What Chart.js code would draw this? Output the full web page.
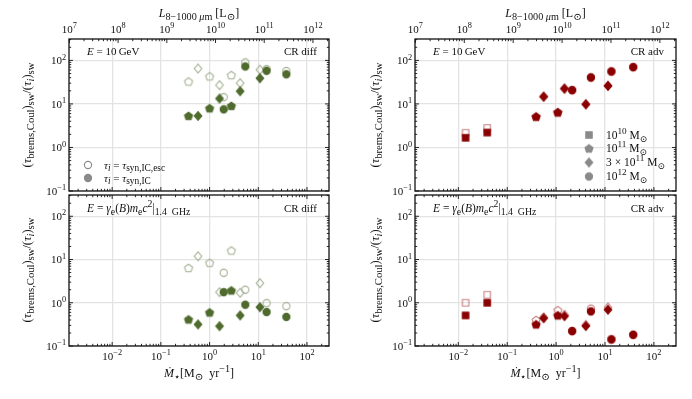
<!DOCTYPE html>
<html>
<head>
<meta charset="utf-8">
<script src="https://cdn.jsdelivr.net/npm/chart.js@4.4.0/dist/chart.umd.min.js"></script>
<style>
  html, body { margin: 0; padding: 0; background: #fff; }
  #wrap { position: relative; width: 692px; height: 399px; }
  #wrap canvas { position: absolute; left: 0; top: 0; }
</style>
</head>
<body>
<div id="wrap">
  <canvas id="diffTop" width="692" height="399"></canvas>
  <canvas id="diffLow" width="692" height="399"></canvas>
  <canvas id="advTop" width="692" height="399"></canvas>
  <canvas id="advLow" width="692" height="399"></canvas>
</div>
<script>
// star formation rates [Msun/yr] and marker shape (galaxy mass) of each galaxy
const sfrDiff = [0.37, 0.58, 1.0, 1.6, 1.95, 2.8, 4.25, 5.4, 10.8, 14.8, 37.7];
const shapeDiff = ['pentagon', 'diamond', 'pentagon', 'diamond', 'circle', 'pentagon', 'diamond', 'circle', 'diamond', 'circle', 'circle'];
const sfrAdv = [0.0141, 0.039, 0.39, 0.556, 1.08, 1.48, 2.13, 4.06, 5.15, 11.5, 13.5, 37.7];
const shapeAdv = ['square', 'square', 'pentagon', 'diamond', 'pentagon', 'diamond', 'circle', 'diamond', 'circle', 'diamond', 'circle', 'circle'];

// ratio (tau_brems,Coul)_sw / (tau_i)_sw
const diffGeVEsc = [32.7, 65, 43, 27, 14.3, 46, 30, 90, 61, 63, 57];
const diffGeV = [5.3, 5.3, 7.95, 13.3, 7.5, 9.0, 19.6, 72.6, 39, 57.8, 48];
const diffGHzEsc = [6.4, 11.9, 8.4, 1.76, 4.93, 16.1, 1.70, 2.0, 2.84, 0.98, 0.835];
const diffGHz = [0.41, 0.316, 0.597, 0.288, 1.76, 1.92, 0.51, 0.90, 0.79, 0.61, 0.47];
const advGeVEsc = [2.17, 2.8, 5.1, 14.7, 6.4, 22.5, 20.7, 9.8, 40.5, 26, 55.7, 70];
const advGeV = [1.67, 2.2, 5.1, 14.7, 6.4, 22.5, 20.7, 9.8, 40.5, 26, 55.7, 70];
const advGHzEsc = [1.0, 1.53, 0.40, 0.46, 0.675, 0.53, 0.221, 0.31, 0.73, 0.78, 0.142, 0.182];
const advGHz = [0.51, 1.0, 0.316, 0.44, 0.51, 0.49, 0.221, 0.29, 0.63, 0.69, 0.142, 0.182];

// axis limits
const sfrMin = 1.3e-3, sfrMax = 283;
const ratioMin = 0.1, ratioMax = 310;
const lumPerSfr = 7.55e9;

const green = '#4f6b2d', greenOpen = '#a4b092';
const red = '#8b0000', redOpen = '#c97f7f';
const legendGray = '#8a8a8a';

const fontOf = (size, italic) => (italic ? 'italic ' : '') + size + 'px "Liberation Serif", "DejaVu Serif", serif';

// markers as small canvases (Chart.js has no pentagon)
const markerCache = {};
function markerImg(shape, color, filled) {
  const key = shape + color + filled;
  if (markerCache[key]) return markerCache[key];
  const c = document.createElement('canvas');
  c.width = c.height = 14;
  const g = c.getContext('2d');
  g.translate(7, 7);
  g.beginPath();
  if (shape === 'circle') {
    g.arc(0, 0, 3.6, 0, Math.PI * 2);
  } else if (shape === 'square') {
    g.rect(-3.2, -3.2, 6.4, 6.4);
  } else if (shape === 'diamond') {
    g.moveTo(0, -4.3); g.lineTo(3.8, 0); g.lineTo(0, 4.3); g.lineTo(-3.8, 0); g.closePath();
  } else {
    for (let i = 0; i < 5; i++) {
      const ang = -Math.PI / 2 + i * 2 * Math.PI / 5;
      const px = 4.2 * Math.cos(ang), py = 4.2 * Math.sin(ang) + 0.4;
      if (i === 0) g.moveTo(px, py); else g.lineTo(px, py);
    }
    g.closePath();
  }
  g.lineWidth = 1.1;
  g.strokeStyle = color;
  if (filled) { g.fillStyle = color; g.fill(); }
  g.stroke();
  markerCache[key] = c;
  return c;
}

function series(xs, ys, shapes, color, filled) {
  return {
    data: xs.map((x, i) => ({ x: x, y: ys[i] })),
    pointStyle: c => markerImg(shapes[c.dataIndex], color, filled),
    pointRadius: 4,
    order: filled ? 1 : 2
  };
}

// text with sub/superscripts: parts = [[text, style]], style flags 'i' italic, '_' sub, '^' sup
function drawRich(ctx, parts, x, y, size, align, angle, subScale) {
  const k = subScale || 0.8;
  const segs = parts.map(([text, st]) => {
    const small = st.includes('_') || st.includes('^');
    const font = fontOf(small ? size * k : size, st.includes('i'));
    ctx.font = font;
    const dy = st.includes('_') ? size * 0.25 : st.includes('^') ? -size * 0.42 : 0;
    return { text, font, dy, w: ctx.measureText(text).width };
  });
  const total = segs.reduce((s, g) => s + g.w, 0);
  let cx = align === 'center' ? -total / 2 : align === 'right' ? -total : 0;
  ctx.save();
  ctx.translate(x, y);
  if (angle) ctx.rotate(angle);
  ctx.fillStyle = '#111';
  ctx.textAlign = 'left';
  ctx.textBaseline = 'alphabetic';
  segs.forEach(g => { ctx.font = g.font; ctx.fillText(g.text, cx, g.dy); cx += g.w; });
  ctx.restore();
}

function expLabel(e) {
  return [['10', ''], [String(e).replace('-', '\u2212'), '^']];
}

function isDecade(v) {
  if (!v) return false;
  const l = Math.log10(v);
  return Math.abs(l - Math.round(l)) < 1e-6;
}

// calls fn(pixel, exponent or null) for every 1..9 x 10^n tick of a log scale
function eachTick(scale, fn) {
  scale.ticks.forEach(t => {
    const v = t.value;
    const e = Math.floor(Math.log10(v) + 1e-9);
    const m = v / Math.pow(10, e);
    if (Math.abs(m - Math.round(m)) > 1e-6) return;
    fn(scale.getPixelForValue(v), Math.round(m) === 1 ? e : null);
  });
}

function framePlugin(extra) {
  return {
    id: 'frame',
    afterDraw(chart) {
      const { ctx, chartArea: a } = chart;
      const xs = chart.scales.x, ys = chart.scales.y;
      const topScale = chart.scales.x2 || xs;
      ctx.save();
      ctx.strokeStyle = '#111';
      ctx.lineWidth = 0.9;
      ctx.beginPath();
      eachTick(xs, (p, e) => {
        if (p < a.left - 0.5 || p > a.right + 0.5) return;
        const len = e === null ? 2.2 : 4;
        ctx.moveTo(p, a.bottom); ctx.lineTo(p, a.bottom - len);
        if (!chart.scales.x2) { ctx.moveTo(p, a.top); ctx.lineTo(p, a.top + len); }
        if (e !== null && extra.bottomLabels) drawRich(ctx, expLabel(e), p, a.bottom + 14, 11, 'center', 0, 0.75);
      });
      if (chart.scales.x2) {
        eachTick(topScale, (p, e) => {
          if (p < a.left - 0.5 || p > a.right + 0.5) return;
          const len = e === null ? 2.2 : 4;
          ctx.moveTo(p, a.top); ctx.lineTo(p, a.top + len);
          if (e !== null) drawRich(ctx, expLabel(e), p, a.top - 6, 11, 'center', 0, 0.75);
        });
      }
      eachTick(ys, (p, e) => {
        if (p < a.top - 0.5 || p > a.bottom + 0.5) return;
        const len = e === null ? 2.2 : 4;
        ctx.moveTo(a.left, p); ctx.lineTo(a.left + len, p);
        ctx.moveTo(a.right, p); ctx.lineTo(a.right - len, p);
        if (e !== null) drawRich(ctx, expLabel(e), a.left - 3, p + 3.8, 11, 'right', 0, 0.75);
      });
      ctx.stroke();
      ctx.lineWidth = 1.3;
      ctx.strokeRect(a.left, a.top, a.right - a.left, a.bottom - a.top);

      (extra.marks || []).forEach(m => ctx.drawImage(m.img, m.x - 7, m.y - 7));
      extra.texts.forEach(t => drawRich(ctx, t.parts, t.x, t.y, t.size || 11, t.align || 'left', t.angle, t.sub));
      ctx.restore();
    }
  };
}

function makePanel(id, area, datasets, extra) {
  const grid = {
    color: c => isDecade(c.tick && c.tick.value) ? '#e3e3e3' : 'rgba(0,0,0,0)',
    lineWidth: 1.3,
    drawTicks: false
  };
  const scales = {
    x: {
      type: 'logarithmic', min: sfrMin, max: sfrMax,
      ticks: { display: false, autoSkip: false },
      grid: grid, border: { display: false },
      afterFit: s => { s.height = 0; }
    },
    y: {
      type: 'logarithmic', min: ratioMin, max: ratioMax,
      ticks: { display: false, autoSkip: false },
      grid: grid, border: { display: false },
      afterFit: s => { s.width = 0; }
    }
  };
  if (extra.lumAxis) {
    scales.x2 = {
      type: 'logarithmic', position: 'top',
      min: sfrMin * lumPerSfr, max: sfrMax * lumPerSfr,
      ticks: { display: false, autoSkip: false },
      grid: { display: false, drawTicks: false }, border: { display: false },
      afterFit: s => { s.height = 0; }
    };
  }
  return new Chart(document.getElementById(id), {
    type: 'scatter',
    data: { datasets: datasets },
    options: {
      responsive: false,
      animation: false,
      layout: { padding: { left: area[0], top: area[1], right: 692 - area[2], bottom: 399 - area[3] } },
      plugins: { legend: { display: false }, tooltip: { enabled: false } },
      scales: scales
    },
    plugins: [framePlugin(extra)]
  });
}

const yTitle = [['(', ''], ['\u03c4', 'i'], ['brems,Coul', '_'], [')', ''], ['sw', '_'], ['/(', ''], ['\u03c4', 'i'], ['i', '_i'], [')', ''], ['sw', '_']];
const lumTitle = [['L', 'i'], ['8\u22121000 ', '_'], ['\u03bc', '_i'], ['m', '_'], [' [L', ''], ['\u2299', '_'], [']', '']];
const sfrTitle = [['\u1e40', 'i'], ['\u22c6', '_'], ['[M', ''], ['\u2299', '_'], ['  yr', ''], ['\u22121', '^'], [']', '']];
const eGeV = [['E', 'i'], [' = 10\u2009GeV', '']];
const eGHz = [['E', 'i'], [' = ', ''], ['\u03b3', 'i'], ['e', '_'], ['(', ''], ['B', 'i'], [')', ''], ['m', 'i'], ['e', '_'], ['c', 'i'], ['2', '^'], ['|', ''], ['1.4\u2002GHz', '_']];
const tauEsc = [['\u03c4', 'i'], ['i', '_i'], [' = ', ''], ['\u03c4', 'i'], ['syn,IC,esc', '_']];
const tauNoEsc = [['\u03c4', 'i'], ['i', '_i'], [' = ', ''], ['\u03c4', 'i'], ['syn,IC', '_']];
const massLabels = [
  [['10', ''], ['10', '^'], [' M', ''], ['\u2299', '_']],
  [['10', ''], ['11', '^'], [' M', ''], ['\u2299', '_']],
  [['3 \u00d7 10', ''], ['11', '^'], [' M', ''], ['\u2299', '_']],
  [['10', ''], ['12', '^'], [' M', ''], ['\u2299', '_']]
];
const massShapes = ['square', 'pentagon', 'diamond', 'circle'];
const massRows = [135, 148.5, 162.5, 176.5];

makePanel('diffTop', [69, 39, 329, 191], [
  series(sfrDiff, diffGeVEsc, shapeDiff, greenOpen, false),
  series(sfrDiff, diffGeV, shapeDiff, green, true)
], {
  lumAxis: true,
  marks: [
    { img: markerImg('circle', legendGray, false), x: 88, y: 165 },
    { img: markerImg('circle', legendGray, true), x: 88, y: 178 }
  ],
  texts: [
    { parts: lumTitle, x: 199, y: 17, align: 'center', size: 12, sub: 0.85 },
    { parts: yTitle, x: 31, y: 115, angle: -Math.PI / 2, align: 'center', size: 12.5, sub: 0.85 },
    { parts: eGeV, x: 87, y: 55 },
    { parts: [['CR diff', '']], x: 317, y: 55, align: 'right' },
    { parts: tauEsc, x: 104, y: 168.5, size: 11, sub: 0.85 },
    { parts: tauNoEsc, x: 104, y: 181.5, size: 11, sub: 0.85 }
  ]
});

makePanel('diffLow', [69, 195, 329, 346], [
  series(sfrDiff, diffGHzEsc, shapeDiff, greenOpen, false),
  series(sfrDiff, diffGHz, shapeDiff, green, true)
], {
  bottomLabels: true,
  texts: [
    { parts: sfrTitle, x: 199, y: 377, align: 'center', size: 12, sub: 0.85 },
    { parts: yTitle, x: 31, y: 270, angle: -Math.PI / 2, align: 'center', size: 12.5, sub: 0.85 },
    { parts: eGHz, x: 87, y: 212, size: 11.5, sub: 0.85 },
    { parts: [['CR diff', '']], x: 317, y: 212, align: 'right' }
  ]
});

makePanel('advTop', [415, 39, 676, 191], [
  series(sfrAdv, advGeVEsc, shapeAdv, redOpen, false),
  series(sfrAdv, advGeV, shapeAdv, red, true)
], {
  lumAxis: true,
  marks: massShapes.map((s, i) => ({ img: markerImg(s, legendGray, true), x: 589, y: massRows[i] })),
  texts: [
    { parts: lumTitle, x: 545.5, y: 17, align: 'center', size: 12, sub: 0.85 },
    { parts: yTitle, x: 379, y: 115, angle: -Math.PI / 2, align: 'center', size: 12.5, sub: 0.85 },
    { parts: eGeV, x: 433, y: 55 },
    { parts: [['CR adv', '']], x: 664, y: 55, align: 'right' }
  ].concat(massLabels.map((p, i) => ({ parts: p, x: 606, y: massRows[i] + 3.8, size: 11.5 })))
});

makePanel('advLow', [415, 195, 676, 346], [
  series(sfrAdv, advGHzEsc, shapeAdv, redOpen, false),
  series(sfrAdv, advGHz, shapeAdv, red, true)
], {
  bottomLabels: true,
  texts: [
    { parts: sfrTitle, x: 545.5, y: 377, align: 'center', size: 12, sub: 0.85 },
    { parts: yTitle, x: 379, y: 270, angle: -Math.PI / 2, align: 'center', size: 12.5, sub: 0.85 },
    { parts: eGHz, x: 433, y: 212, size: 11.5, sub: 0.85 },
    { parts: [['CR adv', '']], x: 664, y: 212, align: 'right' }
  ]
});
</script>
</body>
</html>
